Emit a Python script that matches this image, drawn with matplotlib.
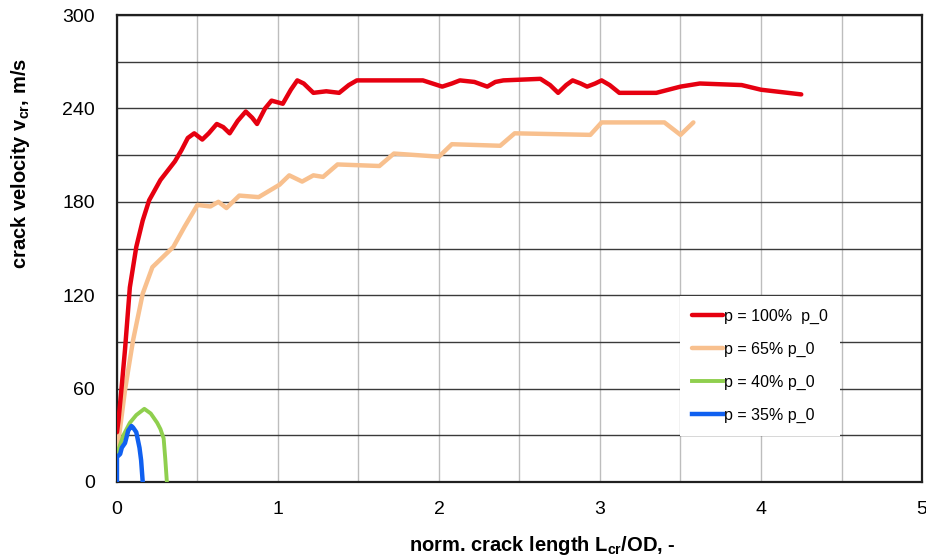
import numpy as np
import matplotlib
matplotlib.use("Agg")
import matplotlib.pyplot as plt

plt.rcParams['font.family'] = ['Liberation Sans', 'DejaVu Sans']
plt.rcParams['mathtext.fontset'] = 'custom'
plt.rcParams['mathtext.rm'] = 'Liberation Sans'
plt.rcParams['mathtext.bf'] = 'Liberation Sans:bold'
plt.rcParams['mathtext.default'] = 'bf'

# p = 100% p_0
x_100 = [0.0, 0.01, 0.03, 0.05, 0.08, 0.12, 0.16, 0.2, 0.27, 0.36, 0.4, 0.44, 0.48, 0.53, 0.57,
         0.62, 0.66, 0.70, 0.75, 0.80, 0.84, 0.87, 0.92, 0.96, 1.03, 1.08, 1.12, 1.16, 1.22,
         1.3, 1.38, 1.44, 1.49, 1.9, 1.96, 2.02, 2.08, 2.13, 2.22, 2.3, 2.35, 2.4, 2.63,
         2.69, 2.74, 2.79, 2.83, 2.88, 2.92, 2.97, 3.01, 3.06, 3.12, 3.35, 3.5, 3.62, 3.88,
         4.0, 4.25]
v_100 = [32, 40, 62, 85, 125, 151, 168, 181, 194, 206, 213, 221, 224, 220, 224,
         230, 228, 224, 232, 238, 234, 230, 240, 245, 243, 252, 258, 256, 250,
         251, 250, 255, 258, 258, 256, 254, 256, 258, 257, 254, 257, 258, 259,
         255, 250, 255, 258, 256, 254, 256, 258, 255, 250, 250, 254, 256, 255,
         252, 249]

# p = 65% p_0
x_65 = [0.0, 0.01, 0.05, 0.07, 0.1, 0.16, 0.22, 0.35, 0.42, 0.5, 0.58, 0.63, 0.68, 0.76,
        0.88, 1.01, 1.07, 1.15, 1.22, 1.28, 1.37, 1.63, 1.72, 2.0, 2.08, 2.38, 2.47,
        2.94, 3.01, 3.4, 3.5, 3.58]
v_65 = [20, 27, 59, 72, 91, 121, 138, 151, 164, 178, 177, 180, 176, 184,
        183, 191, 197, 193, 197, 196, 204, 203, 211, 209, 217, 216, 224,
        223, 231, 231, 223, 231]

# p = 40% p_0
x_40 = [0.0, 0.04, 0.08, 0.12, 0.17, 0.21, 0.25, 0.27, 0.29, 0.3, 0.31]
v_40 = [18, 30, 38, 43, 47, 44, 38, 34, 28, 15, 0]

# p = 35% p_0
x_35 = [0.0, 0.0, 0.02, 0.03, 0.05, 0.07, 0.09, 0.1, 0.12, 0.14, 0.15, 0.16]
v_35 = [0, 16, 18, 22, 25, 33, 36, 35, 32, 22, 14, 0]

fig = plt.figure(figsize=(9.26, 5.56), dpi=100)
ax = fig.add_axes([0.1263, 0.1331, 0.8694, 0.8399])

ax.plot(x_100, v_100, color='#e60010', lw=3.2, label='p = 100%  p_0', zorder=5,
        solid_joinstyle='round', solid_capstyle='round')
ax.plot(x_65, v_65, color='#f8c08e', lw=3.2, label='p = 65% p_0', zorder=4,
        solid_joinstyle='round', solid_capstyle='round')
ax.plot(x_40, v_40, color='#8fcf4e', lw=2.8, label='p = 40% p_0', zorder=4,
        solid_joinstyle='round')
ax.plot(x_35, v_35, color='#1060f0', lw=3.2, label='p = 35% p_0', zorder=6,
        solid_joinstyle='round')

ax.set_xlim(0, 5)
ax.set_ylim(0, 300)
ax.set_xticks(np.arange(0, 6, 1))
ax.set_yticks(np.arange(0, 301, 60))
ax.set_xticks(np.arange(0, 5.01, 0.5), minor=True)
ax.set_yticks(np.arange(0, 301, 30), minor=True)
ax.grid(which='both', axis='x', color='#bdbdbd', lw=1.0)
ax.grid(which='both', axis='y', color='#3a3a3a', lw=1.0)
ax.set_axisbelow(True)
ax.tick_params(which='both', length=0)
ax.tick_params(axis='x', labelsize=14, pad=14)
ax.tick_params(axis='y', labelsize=14, pad=16)
for s in ax.spines.values():
    s.set_linewidth(1.6)
    s.set_color('#202020')

ax.set_xlabel('norm. crack length L$_{cr}$/OD, -', fontsize=14.5, fontweight='bold')
ax.set_ylabel('crack velocity v$_{cr}$, m/s', fontsize=14.5, fontweight='bold')
ax.xaxis.set_label_coords(0.528, -0.112)
ax.yaxis.set_label_coords(-0.106, 0.683)

leg = ax.legend(loc='upper left', bbox_to_anchor=(0.689, 0.415), fontsize=11.5,
                frameon=True, fancybox=False, edgecolor='none', facecolor='white',
                framealpha=1, handlelength=1.9, handletextpad=0.05, labelspacing=1.12,
                borderpad=0.8)
leg.set_zorder(10)

fig.savefig('out.png', dpi=100)
